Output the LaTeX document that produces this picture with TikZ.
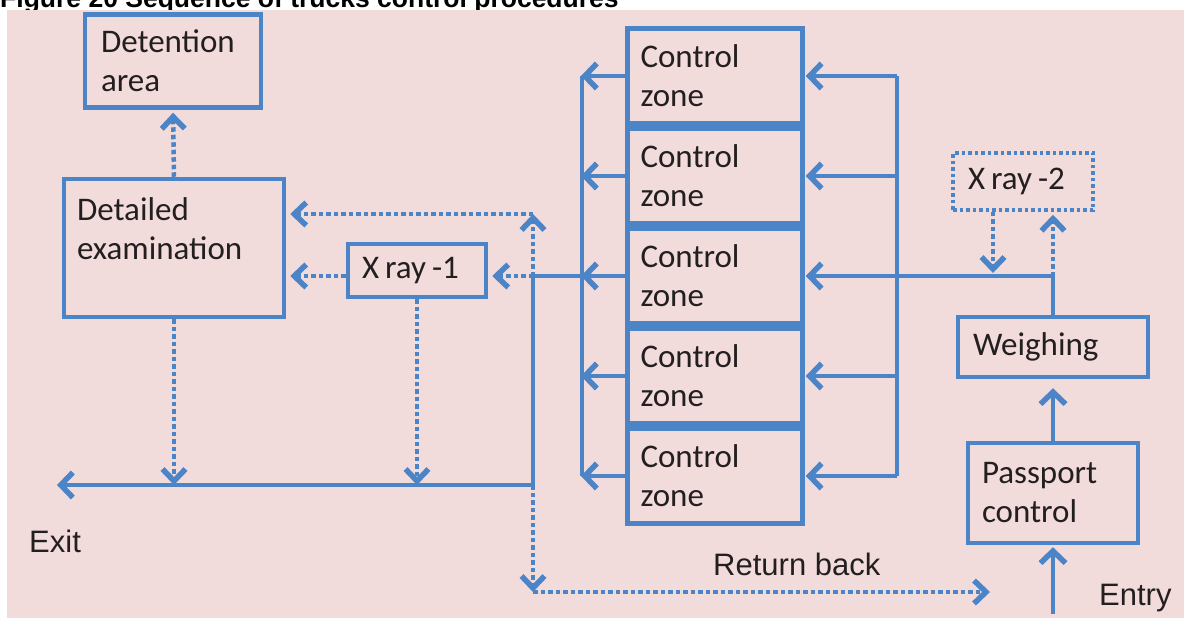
\documentclass[tikz,border=0pt]{standalone}
\usepackage{fontspec}
\setmainfont{Carlito}
\newfontfamily\arialf{Liberation Sans}
\usetikzlibrary{arrows.meta,calc}
\definecolor{bl}{RGB}{76,132,200}
\definecolor{pinkbg}{RGB}{242,219,219}
\definecolor{tx}{RGB}{35,31,32}
\begin{document}
\begin{tikzpicture}[x=1pt,y=-1pt,
  box/.style={draw=bl, line width=4.5pt, inner sep=0pt, text=tx, align=left,
    font=\fontsize{33}{39}\selectfont},
  dotbox/.style={box, line width=3.5pt, dash pattern=on 3.5pt off 3pt},
  line/.style={draw=bl, line width=4.5pt},
  arr/.style={line, -{Straight Barb[length=12pt,width=25pt,line width=5.5pt]}},
  dotl/.style={draw=bl, line width=4.5pt, dash pattern=on 4.5pt off 3pt},
  dotarr/.style={dotl, -{Straight Barb[length=12pt,width=23pt,line width=5.5pt]}},
  lbl/.style={anchor=base west, inner sep=0pt, text=tx, font=\arialf\fontsize{31}{36}\selectfont}]
\useasboundingbox (0,0) rectangle (1184,618);
\node[anchor=base west, inner sep=0pt, text=black, font=\arialf\bfseries\fontsize{26.5}{30}\selectfont] (title) at (0,8) {Figure 20 Sequence of trucks control procedures};
\fill[pinkbg] (7,10) rectangle (1184,618);

% boxes
\node[box, minimum width=176pt, minimum height=93pt, text width=144pt] (det) at (173,61) {Detention\\area};
\node[box, minimum width=220pt, minimum height=138pt, text width=194pt] (exam) at (174,248) {Detailed\\examination\\\mbox{}};
\node[box, minimum width=138pt, minimum height=53pt, text width=110pt] (xr1) at (417,270.5) {X\hspace{6pt}ray\hspace{6pt}-1};
\node[box, minimum width=175pt, minimum height=95pt, text width=149pt] (z1) at (715,76) {Control\\zone};
\node[box, minimum width=175pt, minimum height=95pt, text width=149pt] (z2) at (715,176) {Control\\zone};
\node[box, minimum width=175pt, minimum height=95pt, text width=149pt] (z3) at (715,276) {Control\\zone};
\node[box, minimum width=175pt, minimum height=95pt, text width=149pt] (z4) at (715,376) {Control\\zone};
\node[box, minimum width=175pt, minimum height=95pt, text width=149pt] (z5) at (715,476) {Control\\zone};
\node[dotbox, minimum width=140pt, minimum height=57pt, text width=110pt] (xr2) at (1023,181.5) {X\hspace{6pt}ray\hspace{6pt}-2};
\node[box, minimum width=190pt, minimum height=60pt, text width=160pt] (wei) at (1053,347) {Weighing};
\node[box, minimum width=170pt, minimum height=100pt, text width=142pt] (pass) at (1053,493) {Passport\\control};

% labels
\node[lbl] (exit) at (29,552) {Exit};
\node[lbl] (ret) at (713,575) {Return back};
\node[lbl] (entry) at (1099,605) {Entry};

% coordinates
\coordinate (lx) at (582,0);
\coordinate (rx) at (897,0);
\coordinate (j1) at (533,276);
\coordinate (j2) at (533,485);
\coordinate (exitpt) at (57,485);
\coordinate (j3) at (533,214);
\coordinate (j4) at (533,592);
\coordinate (retend) at (990,592);
\coordinate (entrypt) at (1053,614);
\coordinate (wj) at (1053,276);
\coordinate (xd) at (993,273);

% entry side
\draw[arr, shorten >=2pt] (entrypt) -- (pass.south);
\draw[arr, shorten >=9pt] (pass.north) -- (wei.south);
\draw[line] (wei.north) -- (wj);
\draw[arr, shorten >=1pt] (wj) -- (z3.east);

% right distributor
\draw[line] (z1.east -| rx) -- (z5.east -| rx);
\draw[arr, shorten >=1pt] (z1.east -| rx) -- (z1.east);
\draw[arr, shorten >=1pt] (z2.east -| rx) -- (z2.east);
\draw[arr, shorten >=1pt] (z4.east -| rx) -- (z4.east);
\draw[arr, shorten >=1pt] (z5.east -| rx) -- (z5.east);

% left collector
\draw[line] (z1.west -| lx) -- (z5.west -| lx);
\draw[arr, shorten >=-1pt] (z1.west) -- (z1.west -| lx);
\draw[arr, shorten >=-1pt] (z2.west) -- (z2.west -| lx);
\draw[arr, shorten >=-1pt] (z3.west) -- (z3.west -| lx);
\draw[arr, shorten >=-1pt] (z4.west) -- (z4.west -| lx);
\draw[arr, shorten >=-1pt] (z5.west) -- (z5.west -| lx);

% main line to exit
\draw[line] (z3.west -| lx) -- (j1) -- (j2);
\draw[arr] (j2) -- (exitpt);

% dotted connectors
\draw[dotarr, shorten >=3pt] (exam.north) -- (det.south);
\draw[dotarr] (j1) -- (j3);
\draw[dotarr, shorten >=4pt] (j3) -- (j3 -| exam.east);
\draw[dotarr, shorten >=4pt] (j1) -- (j1 -| xr1.east);
\draw[dotarr, shorten >=4pt] (j1 -| xr1.west) -- (j1 -| exam.east);
\draw[dotarr] (exam.south) -- (exam.south |- j2);
\draw[dotarr] (xr1.south) -- (xr1.south |- j2);
\draw[dotarr] (j2) -- (j4);
\draw[dotarr] (j4) -- (retend);
\draw[dotarr] (xd |- xr2.south) -- (xd);
\draw[dotarr, shorten >=3pt] (wj) -- (wj |- xr2.south);
\end{tikzpicture}
\end{document}
